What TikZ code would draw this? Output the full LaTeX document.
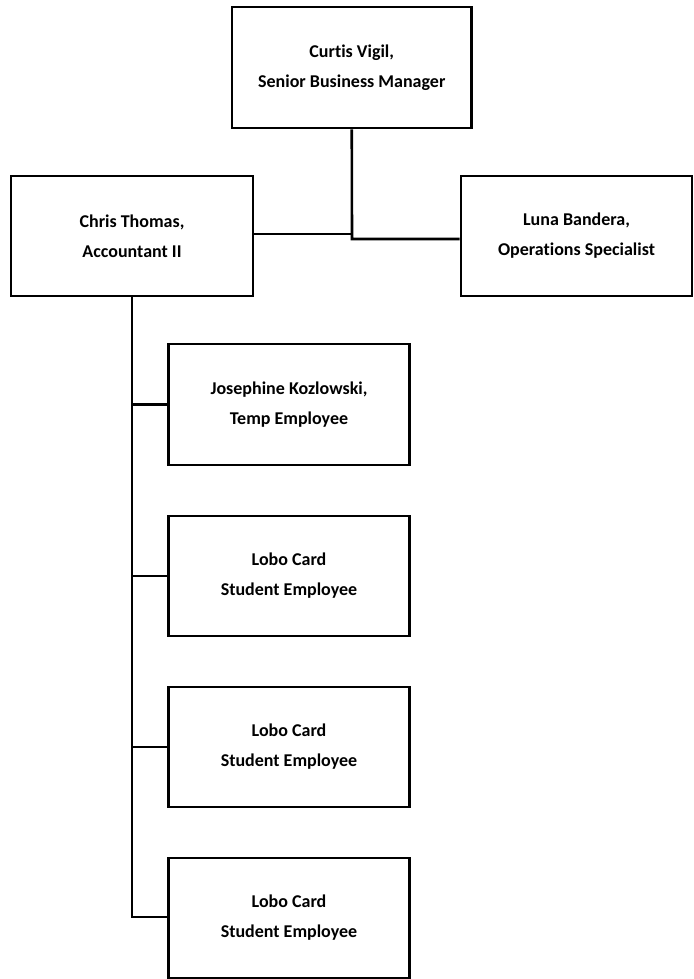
\documentclass[tikz,border=0pt]{standalone}
\usepackage{fontspec}
\setmainfont[Ligatures=NoCommon]{Carlito}
\begin{document}
\begin{tikzpicture}[x=1pt,y=-1pt,
  person/.style={draw, line width=2.8pt, align=center, inner sep=0pt,
    font=\bfseries\fontsize{18}{30}\selectfont},
  wide/.style={minimum width=241pt, minimum height=120pt},
  link/.style={line width=2.6pt}]
\useasboundingbox (0,0) rectangle (693,979);

% head of the unit
\node[person, minimum width=239.5pt, minimum height=121pt] (cv) at (351.75,67.5)
  {Curtis Vigil,\\Senior Business Manager};

% direct reports
\node[person, minimum width=242pt, minimum height=120pt] (ct) at (132,236)
  {Chris Thomas,\\Accountant II};
\node[person, minimum width=231pt, minimum height=120pt] (lb) at (576.5,236)
  {Luna Bandera,\\Operations Specialist};

% staff reporting to the accountant
\node[person, wide, minimum height=121pt] (jk) at (289,404.5)
  {Josephine Kozlowski,\\Temp Employee};
\node[person, wide] (l1) at (289,576)
  {Lobo Card\\Student Employee};
\node[person, wide] (l2) at (289,747)
  {Lobo Card\\Student Employee};
\node[person, wide] (l3) at (289,918)
  {Lobo Card\\Student Employee};

% upper connectors
\coordinate (hub) at (352,239);
\coordinate (knee) at (352,234);
\draw[link] (cv.south) -- (hub) -- (lb.west |- hub);
\draw[link] (ct.east |- knee) -- (knee);

% staff trunk
\coordinate (trunkend) at (132,917);
\draw[link] (ct.south) -- (trunkend) -- (l3.west |- trunkend);
\draw[link] (jk.west) -- (jk.west -| ct.south);
\draw[link] (l1.west) -- (l1.west -| ct.south);
\draw[link] (l2.west) -- (l2.west -| ct.south);
\end{tikzpicture}
\end{document}
